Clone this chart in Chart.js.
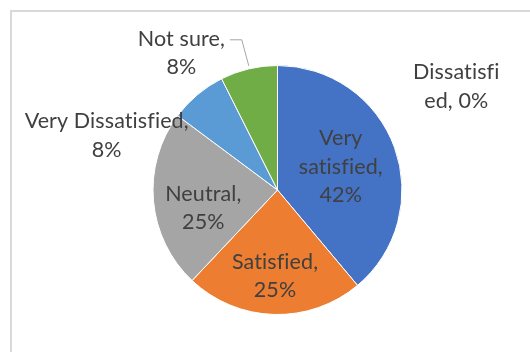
<!DOCTYPE html>
<html>
<head>
<meta charset="utf-8">
<script src="https://cdn.jsdelivr.net/npm/chart.js@4.4.1/dist/chart.umd.min.js"></script>
<style>
  html, body { margin: 0; padding: 0; background: #fff; }
  #wrap { width: 530px; height: 352px; position: relative; }
</style>
</head>
<body>
<div id="wrap"><canvas id="chart" width="530" height="352"></canvas></div>
<script>
// donnees du camembert
const categories = ["Very satisfied", "Satisfied", "Neutral", "Dissatisfied", "Very Dissatisfied", "Not sure"];
const values = [42, 25, 25, 0, 8, 8];
const labelLines = [
  ["Very", "satisfied,", "42%"],
  ["Satisfied,", "25%"],
  ["Neutral,", "25%"],
  ["Dissatisfi", "ed, 0%"],
  ["Very Dissatisfied,", "8%"],
  ["Not sure,", "8%"]
];

const colors = ["#4472C4", "#ED7D31", "#A5A5A5", "#FFC000", "#5B9BD5", "#70AD47"];

// position des etiquettes, en rayons depuis le centre
const labelPos = [
  [0.508, -0.188],
  [-0.02, 0.69],
  [-0.596, 0.144],
  [1.436, -0.832],
  [-1.372, -0.436],
  [-0.772, -1.1]
];
const FONT = "21.5px Lato";
const LINE_H = 28.5;

// cadre gris clair en haut a gauche
const framePlugin = {
  id: "frame",
  beforeDraw(chart) {
    const c = chart.ctx;
    c.save();
    c.strokeStyle = "#d9d9d9";
    c.lineWidth = 2;
    c.beginPath();
    c.moveTo(11, 352);
    c.lineTo(11, 11);
    c.lineTo(530, 11);
    c.stroke();
    c.restore();
  }
};

// etiquettes facon Excel
const labelPlugin = {
  id: "pieLabels",
  afterDatasetsDraw(chart) {
    const c = chart.ctx;
    const arcs = chart.getDatasetMeta(0).data;
    const cx = arcs[0].x;
    const cy = arcs[0].y;
    const r = arcs[0].outerRadius;
    c.save();
    c.font = FONT;
    if ("letterSpacing" in c) c.letterSpacing = "0.1px"; // pas de ligature fi
    c.fillStyle = "#404040";
    c.textAlign = "center";
    c.textBaseline = "middle";
    labelLines.forEach((lines, i) => {
      const x = cx + labelPos[i][0] * r;
      const y = cy + labelPos[i][1] * r;
      const top = y - (lines.length - 1) * LINE_H / 2;
      lines.forEach((t, k) => c.fillText(t, x, top + k * LINE_H));
    });
    // ligne de rappel pour "Not sure"
    const i = 5;
    const a = arcs[i];
    const mid = (a.startAngle + a.endAngle) / 2;
    const ex = cx + Math.cos(mid) * r;
    const ey = cy + Math.sin(mid) * r;
    const lx = cx + labelPos[i][0] * r;
    const ly = cy + labelPos[i][1] * r - LINE_H / 2;
    const w = c.measureText(labelLines[i][0]).width;
    c.strokeStyle = "#a6a6a6";
    c.lineWidth = 1;
    c.beginPath();
    c.moveTo(lx + w / 2 + 5, ly + 1);
    c.lineTo(ex - 7, ly + 1);
    c.lineTo(ex, ey - 3);
    c.stroke();
    c.restore();
  }
};

new Chart(document.getElementById("chart"), {
  type: "pie",
  data: {
    labels: categories,
    datasets: [{
      data: values,
      backgroundColor: colors,
      borderColor: "#ffffff",
      borderWidth: 1
    }]
  },
  options: {
    responsive: false,
    animation: false,
    layout: { padding: { top: 65, bottom: 37, left: 25, right: 0 } },
    plugins: {
      legend: { display: false },
      tooltip: { enabled: false }
    }
  },
  plugins: [framePlugin, labelPlugin]
});
</script>
</body>
</html>
